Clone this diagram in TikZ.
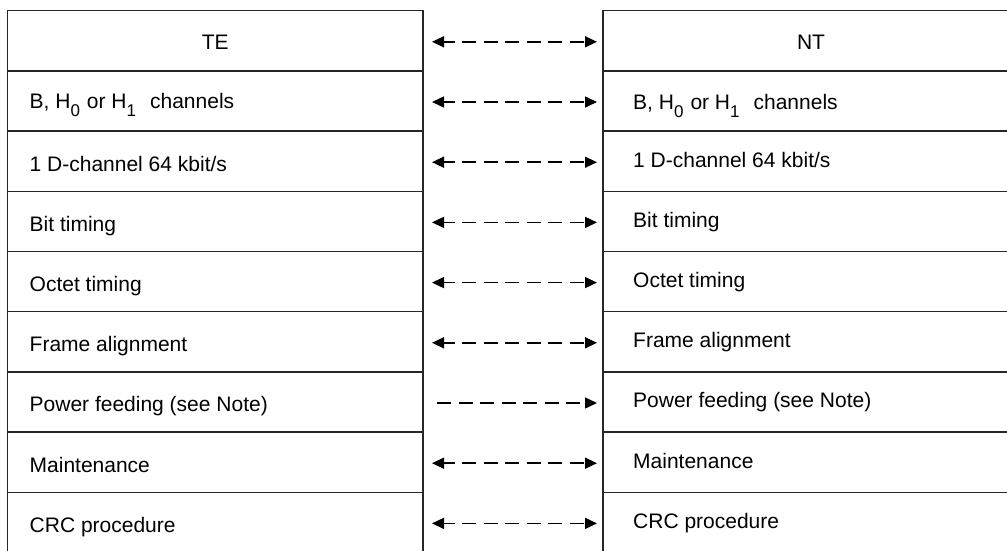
\documentclass[tikz,border=0pt]{standalone}
\usepackage{fontspec}
\setmainfont{Liberation Sans}
\usetikzlibrary{arrows.meta}
\newcommand{\sbsc}[1]{\raisebox{-8pt}{\fontsize{17}{17}\selectfont #1}}
\begin{document}
\begin{tikzpicture}[x=1pt,y=-1pt,
  cell/.style={draw=black!85, line width=1.5pt, minimum width=415.5pt, minimum height=60.2pt, inner sep=0pt, outer sep=0pt, anchor=north west},
  rcell/.style={cell, minimum width=416pt},
  lbl/.style={font=\fontsize{21}{24}\selectfont, inner sep=0pt, anchor=base west},
  conn/.style={line width=1.5pt, dash pattern=on 14pt off 7.5pt, dash phase=3pt, {Triangle[length=12pt,width=11pt]}-{Triangle[length=12pt,width=11pt]}},
  fconn/.style={line width=1.5pt, dash pattern=on 14pt off 7.5pt, -{Triangle[length=12pt,width=11pt]}}]
\useasboundingbox (0,0) rectangle (1007,551);
% left cells
\node[cell] (L1) at (7.5,10.7) {};
\node[cell] (L2) at (7.5,70.9) {};
\node[cell] (L3) at (7.5,131.1) {};
\node[cell] (L4) at (7.5,191.3) {};
\node[cell] (L5) at (7.5,251.5) {};
\node[cell] (L6) at (7.5,311.7) {};
\node[cell] (L7) at (7.5,371.9) {};
\node[cell] (L8) at (7.5,432.1) {};
\node[cell] (L9) at (7.5,492.3) {};
% right cells
\node[rcell] (R1) at (603,10.7) {};
\node[rcell] (R2) at (603,70.9) {};
\node[rcell] (R3) at (603,131.1) {};
\node[rcell] (R4) at (603,191.3) {};
\node[rcell] (R5) at (603,251.5) {};
\node[rcell] (R6) at (603,311.7) {};
\node[rcell] (R7) at (603,371.9) {};
\node[rcell] (R8) at (603,432.1) {};
\node[rcell] (R9) at (603,492.3) {};
% labels left
\node[lbl, anchor=base] (tTE) at ([yshift=-38.6pt]L1.north) {TE};
\node[lbl] (tL2) at ([xshift=22pt,yshift=-38pt]L2.north west) {B, H\sbsc{0}\hspace{7pt}or H\sbsc{1}\hspace{14pt}channels};
\node[lbl] (tL3) at ([xshift=22pt,yshift=-40pt]L3.north west) {1 D-channel 64 kbit/s};
\node[lbl] (tL4) at ([xshift=22pt,yshift=-40pt]L4.north west) {Bit timing};
\node[lbl] (tL5) at ([xshift=22pt,yshift=-40pt]L5.north west) {Octet timing};
\node[lbl] (tL6) at ([xshift=22pt,yshift=-40pt]L6.north west) {Frame alignment};
\node[lbl] (tL7) at ([xshift=22pt,yshift=-40pt]L7.north west) {Power feeding (see Note)};
\node[lbl] (tL8) at ([xshift=22pt,yshift=-40pt]L8.north west) {Maintenance};
\node[lbl] (tL9) at ([xshift=22pt,yshift=-40pt]L9.north west) {CRC procedure};
% labels right
\node[lbl, anchor=base] (tNT) at ([yshift=-38.6pt]R1.north) {NT};
\node[lbl] (tR2) at ([xshift=30pt,yshift=-38.5pt]R2.north west) {B, H\sbsc{0}\hspace{7pt}or H\sbsc{1}\hspace{14pt}channels};
\node[lbl] (tR3) at ([xshift=30pt,yshift=-36pt]R3.north west) {1 D-channel 64 kbit/s};
\node[lbl] (tR4) at ([xshift=30pt,yshift=-36pt]R4.north west) {Bit timing};
\node[lbl] (tR5) at ([xshift=30pt,yshift=-36pt]R5.north west) {Octet timing};
\node[lbl] (tR6) at ([xshift=30pt,yshift=-36pt]R6.north west) {Frame alignment};
\node[lbl] (tR7) at ([xshift=30pt,yshift=-36pt]R7.north west) {Power feeding (see Note)};
\node[lbl] (tR8) at ([xshift=30pt,yshift=-36pt]R8.north west) {Maintenance};
\node[lbl] (tR9) at ([xshift=30pt,yshift=-36pt]R9.north west) {CRC procedure};
% connectors
\draw[conn] ([xshift=9pt,yshift=-1pt]L1.east) -- ([xshift=-6pt,yshift=-1pt]R1.west);
\draw[conn] ([xshift=9pt,yshift=-1pt]L2.east) -- ([xshift=-6pt,yshift=-1pt]R2.west);
\draw[conn] ([xshift=9pt,yshift=-1pt]L3.east) -- ([xshift=-6pt,yshift=-1pt]R3.west);
\draw[conn] ([xshift=9pt,yshift=-1pt]L4.east) -- ([xshift=-6pt,yshift=-1pt]R4.west);
\draw[conn] ([xshift=9pt,yshift=-1pt]L5.east) -- ([xshift=-6pt,yshift=-1pt]R5.west);
\draw[conn] ([xshift=9pt,yshift=-1pt]L6.east) -- ([xshift=-6pt,yshift=-1pt]R6.west);
\draw[fconn] ([xshift=14pt,yshift=-1pt]L7.east) -- ([xshift=-6pt,yshift=-1pt]R7.west);
\draw[conn] ([xshift=9pt,yshift=-1pt]L8.east) -- ([xshift=-6pt,yshift=-1pt]R8.west);
\draw[conn] ([xshift=9pt,yshift=-1pt]L9.east) -- ([xshift=-6pt,yshift=-1pt]R9.west);
\end{tikzpicture}
\end{document}
